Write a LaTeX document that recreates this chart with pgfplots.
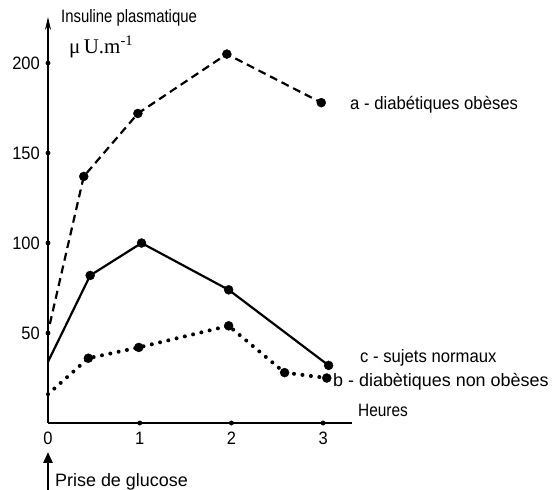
\documentclass[border=0pt]{standalone}
\usepackage{fontspec}
\setmainfont{Liberation Sans}
\newfontfamily\timesf{Liberation Serif}
\usepackage{graphicx}
\usepackage{pgfplots}
\pgfplotsset{compat=1.18}
\usetikzlibrary{arrows.meta}
\newcommand\sq[2]{\scalebox{#1}[1]{#2}}
\pgfplotstableread{
x y
0.02 55
0.39 137
0.98 172
1.95 205
2.98 178
}\dataA
\pgfplotstableread{
x y
0.00 34
0.46 82
1.02 100
1.97 74
3.06 32
}\dataC
\pgfplotstableread{
x y
0.00 16
0.44 36
0.99 42
1.97 54
2.58 28
3.04 25
}\dataB
\begin{document}
\fontsize{18}{21}\selectfont
\begin{tikzpicture}
\path[use as bounding box] (0bp,0bp) rectangle (560bp,490bp);
\begin{axis}[at={(48bp,67bp)}, anchor=south west, scale only axis,
  width=304bp, height=406bp, xmin=0, xmax=3.315, ymin=0, ymax=225.6,
  axis lines=left, axis line style={line width=1.6bp},
  x axis line style={-}, y axis line style={-{Stealth[length=13bp,width=6bp]}},
  xtick={0,1,2,3}, ytick={50,100,150,200}, major tick length=0,
  /pgf/number format/assume math mode=true,
  xticklabel={\fontsize{18}{21}\selectfont\sq{0.92}{\pgfmathprintnumber{\tick}}},
  yticklabel={\fontsize{18}{21}\selectfont\sq{0.92}{\pgfmathprintnumber{\tick}}},
  xticklabel style={yshift=-3bp},
  yticklabel style={xshift=-2bp},
  clip=false]
\addplot[black, line width=2.2bp, dash pattern=on 8bp off 5bp] table {\dataA};
\addplot[black, only marks, mark=*, mark size=4.5bp, skip coords between index={0}{1}] table {\dataA};
\addplot[black, line width=2.2bp] table {\dataC};
\addplot[black, only marks, mark=*, mark size=4.5bp, skip coords between index={0}{1}] table {\dataC};
\addplot[black, line width=4bp, line cap=round, dash pattern=on 0bp off 8.5bp] table {\dataB};
\addplot[black, only marks, mark=*, mark size=4.5bp, skip coords between index={0}{1}] table {\dataB};
\addplot[black, only marks, mark=*, mark size=2.2bp] coordinates {(0,50)(0,100)(0,150)(0,200)(1,0)(2,0)(3,0)};
\end{axis}
\node[anchor=west, inner sep=0] at (61bp,472bp) {\sq{0.83}{Insuline plasmatique}};
\node[anchor=west, inner sep=0] at (69bp,443bp) {\timesf\fontsize{21}{23}\selectfont μ\,U.m\textsuperscript{-1}};
\node[anchor=west, inner sep=0] at (350bp,385bp) {\sq{0.93}{a - diabétiques obèses}};
\node[anchor=west, inner sep=0] at (360bp,132bp) {\sq{0.93}{c - sujets normaux}};
\node[anchor=west, inner sep=0] at (333bp,108bp) {\sq{1.0}{b - diabètiques non obèses}};
\node[anchor=west, inner sep=0] at (358bp,80bp) {\sq{0.86}{Heures}};
\node[anchor=west, inner sep=0] at (55bp,8bp) {\sq{1.0}{Prise de glucose}};
\draw[line width=2.5bp, -{Triangle[length=11bp,width=9bp]}] (48bp,-5bp) -- (48bp,38bp);
\end{tikzpicture}
\end{document}
